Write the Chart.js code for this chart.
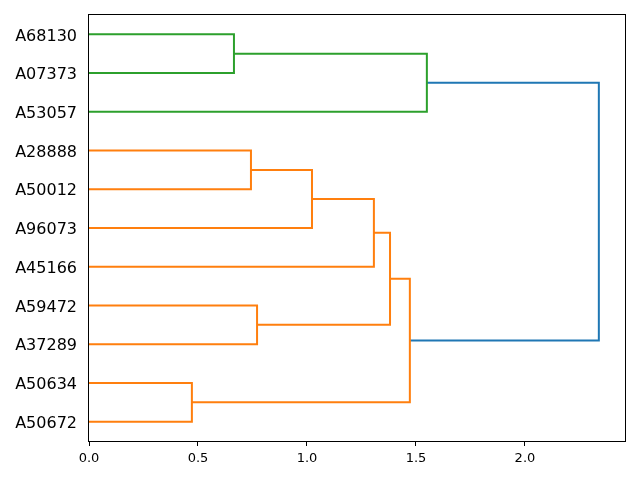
<!DOCTYPE html>
<html>
<head>
<meta charset="utf-8">
<script src="https://cdn.jsdelivr.net/npm/chart.js@4.4.0/dist/chart.umd.min.js"></script>
<style>
  html, body { margin: 0; padding: 0; background: #fff; }
  #wrap { width: 640px; height: 480px; }
</style>
</head>
<body>
<div id="wrap"><canvas id="dendro" width="640" height="480"></canvas></div>
<script>
// hojas, de abajo hacia arriba (como las ordena el dendrograma)
var leafLabels = ['A50672', 'A50634', 'A37289', 'A59472', 'A45166', 'A96073',
                  'A50012', 'A28888', 'A53057', 'A07373', 'A68130'];

// uniones: nodo nuevo = 11 + indice
var mergeA      = [0, 6, 2, 5, 4, 13, 11, 9, 8, 17];
var mergeB      = [1, 7, 3, 12, 14, 15, 16, 10, 18, 19];
var mergeHeight = [0.472, 0.743, 0.771, 1.023, 1.307, 1.381, 1.472, 0.665, 1.55, 2.339];
var mergeGroup  = ['C1', 'C1', 'C1', 'C1', 'C1', 'C1', 'C1', 'C2', 'C2', 'C0'];

var xTicks = [0, 0.5, 1.0, 1.5, 2.0];

var colores = { C0: '#1f77b4', C1: '#ff7f0e', C2: '#2ca02c' };

// posicion y altura de cada nodo
var nodoY = [], nodoH = [];
for (var i = 0; i < leafLabels.length; i++) {
  nodoY.push(5 + 10 * i);
  nodoH.push(0);
}
var datasets = [];
for (var j = 0; j < mergeA.length; j++) {
  var a = mergeA[j], b = mergeB[j], h = mergeHeight[j];
  datasets.push({
    data: [
      { x: nodoH[a], y: nodoY[a] },
      { x: h, y: nodoY[a] },
      { x: h, y: nodoY[b] },
      { x: nodoH[b], y: nodoY[b] }
    ],
    showLine: true,
    borderColor: colores[mergeGroup[j]],
    borderWidth: 2,
    pointRadius: 0,
    tension: 0,
    fill: false
  });
  nodoY.push((nodoY[a] + nodoY[b]) / 2);
  nodoH.push(h);
}

// marco negro alrededor del area
var marco = {
  id: 'marco',
  afterDraw: function(chart) {
    var c = chart.ctx, ca = chart.chartArea;
    c.save();
    c.strokeStyle = '#000';
    c.lineWidth = 1;
    c.strokeRect(Math.round(ca.left) - 0.5, Math.round(ca.top) - 0.5,
                 Math.round(ca.right - ca.left) + 1, Math.round(ca.bottom - ca.top) + 1);
    c.restore();
  }
};

var ctx = document.getElementById('dendro').getContext('2d');
var grafico = new Chart(ctx, {
  type: 'scatter',
  data: { datasets: datasets },
  options: {
    responsive: false,
    animation: false,
    layout: { padding: { top: 15, right: 15, left: 0, bottom: 0 } },
    plugins: {
      legend: { display: false },
      tooltip: { enabled: false }
    },
    scales: {
      x: {
        type: 'linear',
        min: 0,
        max: 2.459,
        afterBuildTicks: function(scale) {
          scale.ticks = xTicks.map(function(v) { return { value: v }; });
        },
        afterFit: function(scale) {
          scale.height = 39;
          scale.paddingLeft = 0;
          scale.paddingRight = 0;
        },
        border: { display: false },
        grid: { drawOnChartArea: false, drawTicks: true, tickLength: 5, color: '#000', lineWidth: 1 },
        ticks: {
          color: '#000',
          padding: 5,
          maxRotation: 0,
          font: { family: 'DejaVu Sans', size: 13 },
          callback: function(v) { return v.toFixed(1); }
        }
      },
      y: {
        type: 'linear',
        min: 0,
        max: leafLabels.length * 10,
        afterBuildTicks: function(scale) {
          scale.ticks = leafLabels.map(function(l, i) { return { value: 5 + 10 * i }; });
        },
        afterFit: function(scale) {
          scale.width = 89;
          scale.paddingTop = 0;
          scale.paddingBottom = 0;
        },
        border: { display: false },
        grid: { display: false, drawTicks: false },
        ticks: {
          color: '#000',
          padding: 12,
          labelOffset: 2,
          font: { family: 'DejaVu Sans', size: 16 },
          callback: function(v, i) { return leafLabels[i]; }
        }
      }
    }
  },
  plugins: [marco]
});
</script>
</body>
</html>
